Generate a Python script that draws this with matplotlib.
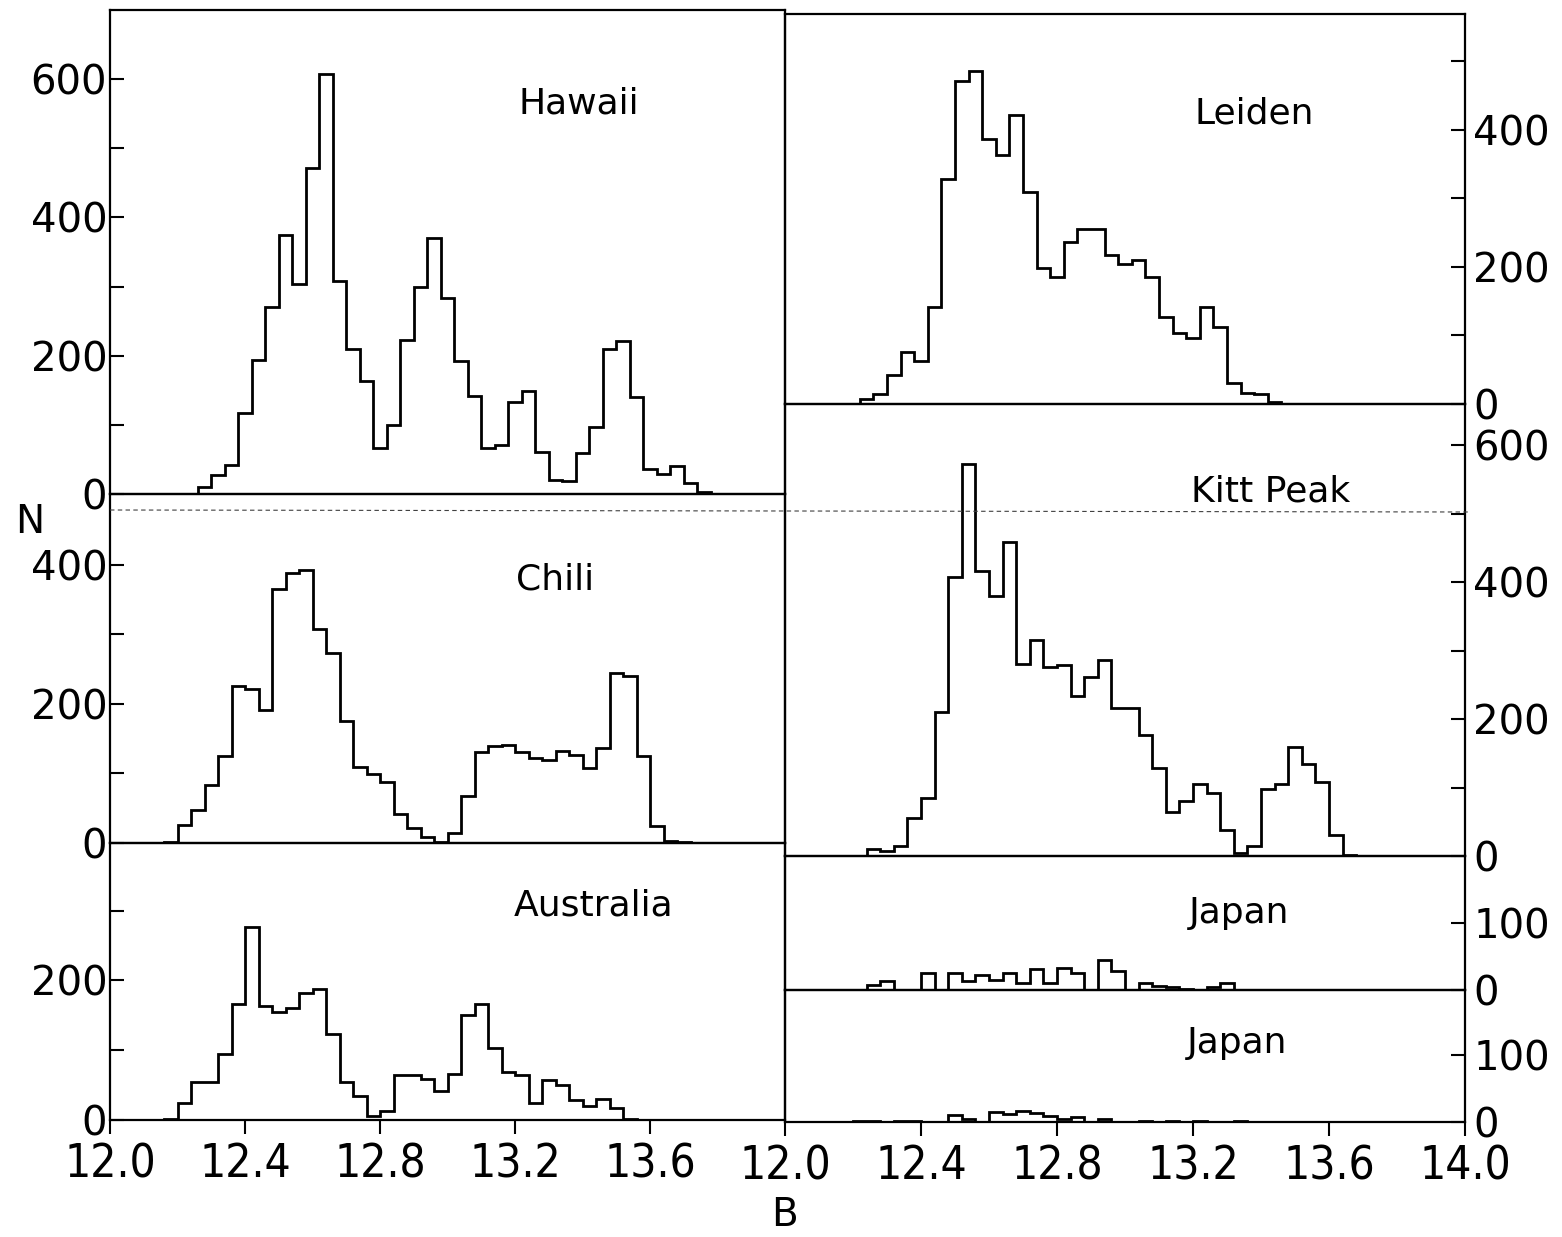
import numpy as np
import matplotlib
matplotlib.use('Agg')
import matplotlib.pyplot as plt
from matplotlib import font_manager

# 图像尺寸 (像素)
W, H = 1562, 1237
bin_width = 0.04

# 各台站的直方图数据 (B 星等, 每 0.04 mag 一个 bin)
hawaii_start = 12.26
hawaii_counts = [10, 28, 42, 117, 194, 270, 374, 303, 472, 607, 308, 209, 163, 66, 100,
                 223, 300, 370, 283, 192, 142, 66, 71, 133, 149, 61, 20, 19, 60, 97,
                 209, 222, 140, 36, 29, 40, 16, 3]

chili_start = 12.16
chili_counts = [2, 26, 48, 84, 125, 226, 221, 192, 365, 389, 393, 308, 274, 175, 109,
                99, 88, 42, 22, 8, 1, 15, 67, 131, 139, 141, 131, 122, 120, 132,
                126, 108, 137, 245, 240, 125, 25, 3, 1]

australia_start = 12.16
australia_counts = [2, 25, 54, 54, 94, 166, 277, 164, 155, 161, 182, 188, 123, 54, 35,
                    6, 13, 64, 64, 59, 41, 66, 150, 166, 103, 69, 64, 25, 58, 50,
                    28, 20, 30, 17, 2]

leiden_start = 12.22
leiden_counts = [8, 15, 43, 76, 63, 141, 328, 471, 486, 386, 363, 421, 309, 198, 186,
                 236, 256, 256, 217, 204, 210, 186, 127, 103, 97, 141, 113, 30, 16, 14, 3]

kitt_start = 12.24
kitt_counts = [10, 7, 15, 55, 85, 210, 407, 573, 416, 379, 459, 281, 315, 276, 279,
               233, 261, 286, 216, 216, 177, 129, 64, 81, 105, 92, 38, 4, 14, 98,
               105, 159, 134, 108, 30, 2]

japan1_start = 12.24
japan1_counts = [7, 14, 0, 0, 25, 0, 25, 14, 23, 15, 25, 11, 32, 11, 33, 26, 0, 45, 28,
                 0, 11, 6, 4, 2, 0, 4, 11]

japan2_start = 12.20
japan2_counts = [2, 2, 0, 1, 1, 0, 0, 10, 4, 0, 15, 12, 17, 14, 9, 4, 8, 0, 4, 0, 0,
                 2, 0, 2, 0, 1, 0, 0, 1]

left_xticks = [12.0, 12.4, 12.8, 13.2, 13.6]
right_xticks = [12.0, 12.4, 12.8, 13.2, 13.6, 14.0]

# 横轴数字用窄体 (有的话)
narrow_prop = font_manager.FontProperties(family='DejaVu Sans', stretch='condensed')
narrow_ok = 'Condensed' in font_manager.findfont(narrow_prop, fallback_to_default=True)

fig = plt.figure(figsize=(W / 100, H / 100), dpi=100)


def 面板(x0, y0, x1, y1, ymax):
    # 用像素坐标建立一个子图
    ax = fig.add_axes([x0 / W, 1 - y1 / H, (x1 - x0) / W, (y1 - y0) / H])
    ax.set_xlim(12.0, 14.0)
    ax.set_ylim(0, ymax)
    for s in ax.spines.values():
        s.set_linewidth(1.6)
    ax.set_xticks([])
    ax.patch.set_alpha(0)
    return ax


def 直方图(ax, start, counts):
    edges = start + bin_width * np.arange(len(counts) + 1)
    ax.stairs(counts, edges, baseline=0, color='black', linewidth=2.0)


def 纵轴(ax, ticks, step, side):
    ax.set_yticks(ticks)
    ax.set_yticklabels([str(t) if t % step == 0 else '' for t in ticks])
    if side == 'right':
        ax.yaxis.tick_right()
        ax.tick_params(axis='y', direction='in', length=10, width=1.5,
                       labelsize=29, pad=6)
    else:
        ax.tick_params(axis='y', direction='in', length=10, width=1.5,
                       labelsize=29, pad=2)


def 横轴(ax, ticks):
    ax.set_xticks(ticks)
    ax.set_xticklabels(['%.1f' % t for t in ticks])
    ax.tick_params(axis='x', direction='out', length=10, width=1.5, pad=6)
    for lbl in ax.get_xticklabels():
        if narrow_ok:
            lbl.set_fontstretch('condensed')
            lbl.set_fontsize(33)
        else:
            lbl.set_fontsize(29)


# 左列
ax_h = 面板(110, 10, 785, 494, 700)
直方图(ax_h, hawaii_start, hawaii_counts)
纵轴(ax_h, [0, 100, 200, 300, 400, 500, 600], 200, 'left')

ax_c = 面板(110, 494, 785, 843, 502)
直方图(ax_c, chili_start, chili_counts)
纵轴(ax_c, [0, 100, 200, 300, 400], 200, 'left')

ax_a = 面板(110, 843, 785, 1120, 397)
直方图(ax_a, australia_start, australia_counts)
纵轴(ax_a, [0, 100, 200, 300], 200, 'left')
横轴(ax_a, left_xticks)

# 右列
ax_l = 面板(785, 14, 1465, 404, 569)
直方图(ax_l, leiden_start, leiden_counts)
纵轴(ax_l, [0, 100, 200, 300, 400, 500], 200, 'right')

ax_k = 面板(785, 404, 1465, 856, 660)
直方图(ax_k, kitt_start, kitt_counts)
纵轴(ax_k, [0, 100, 200, 300, 400, 500, 600], 200, 'right')

ax_j1 = 面板(785, 856, 1465, 990, 200)
直方图(ax_j1, japan1_start, japan1_counts)
纵轴(ax_j1, [0, 100], 100, 'right')

ax_j2 = 面板(785, 990, 1465, 1122, 198)
直方图(ax_j2, japan2_start, japan2_counts)
纵轴(ax_j2, [0, 100], 100, 'right')
横轴(ax_j2, right_xticks)

# 面板名称
names = [('Hawaii', 518, 103), ('Chili', 516, 580), ('Australia', 514, 906),
         ('Leiden', 1194, 113), ('Kitt Peak', 1191, 491),
         ('Japan', 1189, 913), ('Japan', 1187, 1043)]
for name, x, y in names:
    fig.text(x / W, 1 - y / H, name, fontsize=26, ha='left', va='center')

# 坐标轴名称
fig.text(30 / W, 1 - 522 / H, 'N', fontsize=28, ha='center', va='center')
fig.text(785 / W, 1 - 1215 / H, 'B', fontsize=28, ha='center', va='center')

# 扫描件上那条淡淡的点线
fig.add_artist(plt.Line2D([110 / W, 1470 / W], [1 - 510 / H, 1 - 512 / H],
                          transform=fig.transFigure, color='0.25',
                          linewidth=0.8, linestyle=(0, (4, 3))))

fig.savefig('out.png', dpi=100)
